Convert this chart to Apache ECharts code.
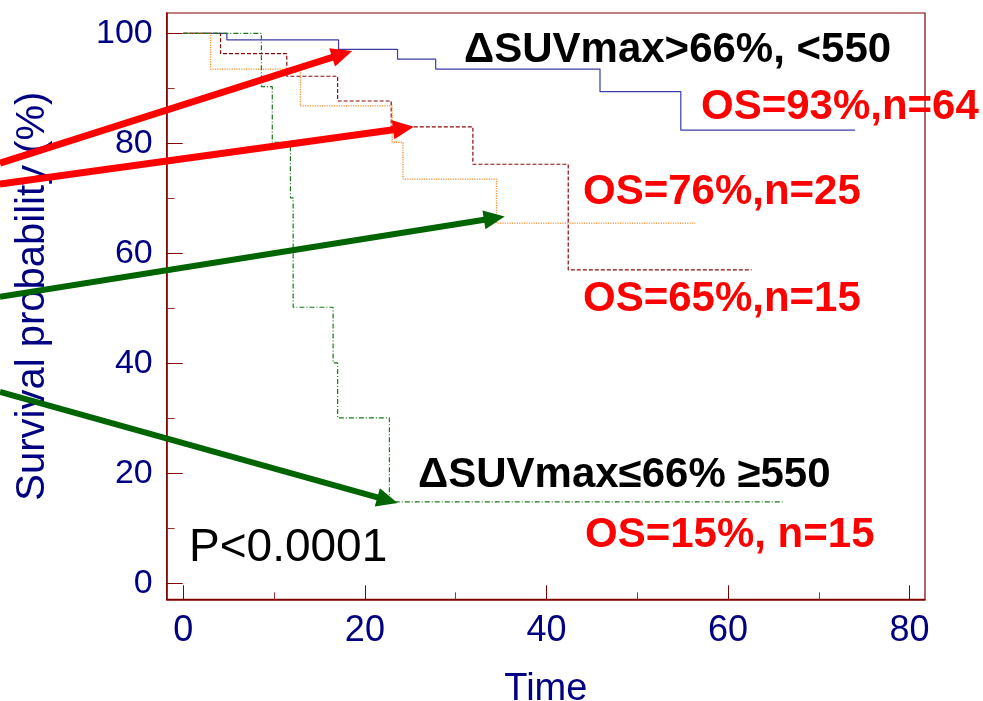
<!DOCTYPE html>
<html>
<head>
<meta charset="utf-8">
<script src="https://cdn.jsdelivr.net/npm/echarts@6/dist/echarts.min.js"></script>
<style>
  html, body { margin: 0; padding: 0; background: #fff; }
  #chart { width: 983px; height: 701px; }
</style>
</head>
<body>
<div id="chart"></div>
<script>
// Kaplan–Meier survival curves: event times and survival (%) after each step
const timeBlue   = [0, 4.8, 17.1, 23.6, 27.8, 45.9, 54.8, 74.0];
const survBlue   = [100, 98.8, 97.1, 95.3, 93.5, 89.4, 82.4, 82.4];
const timeRed    = [0, 4.1, 11.4, 17.0, 22.9, 31.9, 42.4, 62.6];
const survRed    = [100, 96.3, 92.2, 87.7, 83.0, 76.2, 57.0, 57.0];
const timeOrange = [0, 3.0, 12.9, 23.0, 24.2, 34.5, 56.4];
const survOrange = [100, 93.5, 86.8, 80.2, 73.5, 65.5, 65.5];
const timeGreen  = [0, 8.6, 9.8, 11.8, 12.1, 16.5, 17.0, 22.7, 66.0];
const survGreen  = [100, 90.3, 80.2, 70.1, 50.2, 40.1, 30.1, 14.8, 14.8];

// Axis ticks
const xMajorTicks = [0, 20, 40, 60, 80];
const xMinorTicks = [10, 30, 50, 70];
const yMajorTicks = [0, 20, 40, 60, 80, 100];
const yMinorTicks = [10, 30, 50, 70, 90];

const xName = 'Time';
const yName = 'Survival probability (%)';

const FONT = "'Liberation Sans', Arial, sans-serif";
const AXIS_RED = '#800000';
const NAVY = '#000080';

const pairs = (t, s) => t.map((v, i) => [v, s[i]]);

const X_MIN = -1.83, X_MAX = 81.7;
const Y_MIN = -2.9, Y_MAX = 103.7;

const chart = echarts.init(document.getElementById('chart'), null, { renderer: 'canvas' });

function majorX() {
  return {
    type: 'value', min: X_MIN, max: X_MAX, position: 'bottom',
    axisLine: { show: true, onZero: false, lineStyle: { color: AXIS_RED, width: 1.5 } },
    axisTick: { show: true, inside: true, length: 14, customValues: xMajorTicks,
                lineStyle: { color: AXIS_RED, width: 1 } },
    axisLabel: { show: true, customValues: xMajorTicks, margin: 14,
                 fontFamily: FONT, fontSize: 36, color: NAVY },
    splitLine: { show: false },
    name: xName, nameLocation: 'middle', nameGap: 71,
    nameTextStyle: { fontFamily: FONT, fontSize: 38, color: NAVY }
  };
}
function minorX() {
  return {
    type: 'value', min: X_MIN, max: X_MAX, position: 'bottom', offset: 0,
    axisLine: { show: false, onZero: false },
    axisTick: { show: true, inside: true, length: 7, customValues: xMinorTicks,
                lineStyle: { color: '#a03030', width: 1 } },
    axisLabel: { show: false },
    splitLine: { show: false }
  };
}
function majorY() {
  return {
    type: 'value', min: Y_MIN, max: Y_MAX, position: 'left',
    axisLine: { show: true, onZero: false, lineStyle: { color: AXIS_RED, width: 1.5 } },
    axisTick: { show: true, inside: true, length: 16, customValues: yMajorTicks,
                lineStyle: { color: AXIS_RED, width: 1 } },
    axisLabel: { show: true, customValues: yMajorTicks, margin: 14,
                 fontFamily: FONT, fontSize: 34, color: NAVY },
    splitLine: { show: false },
    name: yName, nameLocation: 'middle', nameGap: 114, nameRotate: 90,
    nameTextStyle: { fontFamily: FONT, fontSize: 40, color: NAVY, padding: [0, 0, 0, 20] }
  };
}
function minorY() {
  return {
    type: 'value', min: Y_MIN, max: Y_MAX, position: 'left', offset: 0,
    axisLine: { show: false, onZero: false },
    axisTick: { show: true, inside: true, length: 8, customValues: yMinorTicks,
                lineStyle: { color: '#a03030', width: 1 } },
    axisLabel: { show: false },
    splitLine: { show: false }
  };
}

function kmSeries(name, t, s, color, dash, width) {
  return {
    name: name, type: 'line', step: 'end',
    xAxisIndex: 0, yAxisIndex: 0,
    data: pairs(t, s),
    showSymbol: false, symbol: 'none',
    lineStyle: { color: color, width: width, type: dash },
    clip: false,
    silent: true
  };
}

chart.setOption({
  animation: false,
  backgroundColor: '#ffffff',
  grid: {
    left: 166.7, right: 58, top: 13, bottom: 101.7,
    outerBoundsMode: 'none', containLabel: false,
    show: true, borderColor: AXIS_RED, borderWidth: 1.2, backgroundColor: 'transparent'
  },
  xAxis: [majorX(), minorX()],
  yAxis: [majorY(), minorY()],
  series: [
    kmSeries('ΔSUVmax>66%, <550', timeBlue, survBlue, '#3c3ca8', 'solid', 1.2),
    kmSeries('OS=76%', timeRed, survRed, '#8b0a0a', [4, 2], 1.2),
    kmSeries('OS=65%', timeOrange, survOrange, '#ff8c2a', [1.2, 1.2], 1.3),
    kmSeries('ΔSUVmax≤66% ≥550', timeGreen, survGreen, '#1a7a1a', [5, 2, 1, 2], 1.2)
  ]
});

// Annotation text blocks (pixel layout)
const notes = [
  { text: 'ΔSUVmax>66%, <550', x: 464, y: 50,  color: '#000', size: 42, weight: 'bold' },
  { text: 'OS=93%,n=64',       x: 701, y: 107, color: '#ff0000', size: 42, weight: 'bold' },
  { text: 'OS=76%,n=25',       x: 583, y: 192, color: '#ff0000', size: 42, weight: 'bold' },
  { text: 'OS=65%,n=15',       x: 583, y: 299, color: '#ff0000', size: 42, weight: 'bold' },
  { text: 'ΔSUVmax≤66% ≥550',  x: 418, y: 475, color: '#000', size: 42, weight: 'bold' },
  { text: 'OS=15%, n=15',      x: 585, y: 535, color: '#ff0000', size: 42, weight: 'bold' },
  { text: 'P<0.0001',          x: 189, y: 548, color: '#000', size: 46, weight: 'normal' }
];

// Pointer arrows, anchored in data space (tail lies left of the plot)
const arrows = [
  { from: [-20.2, 76.4], to: [18.6, 96.8], color: '#ff0000', width: 7 },
  { from: [-20.2, 72.6], to: [25.4, 83.0], color: '#ff0000', width: 7 },
  { from: [-20.2, 52.1], to: [35.4, 66.7], color: '#006400', width: 6 },
  { from: [-20.2, 34.8], to: [23.6, 14.6], color: '#006400', width: 6 }
];

const graphics = [];
notes.forEach(n => {
  graphics.push({
    type: 'text', x: n.x, y: n.y, z: 50,
    style: {
      text: n.text, fill: n.color,
      font: n.weight + ' ' + n.size + 'px ' + FONT,
      textAlign: 'left', textVerticalAlign: 'middle'
    }
  });
});

const HEAD_LEN = 21, HEAD_HALF = 9.5;
arrows.forEach(a => {
  const p0 = chart.convertToPixel({ gridIndex: 0 }, a.from);
  const p1 = chart.convertToPixel({ gridIndex: 0 }, a.to);
  const dx = p1[0] - p0[0], dy = p1[1] - p0[1];
  const len = Math.sqrt(dx * dx + dy * dy);
  const ux = dx / len, uy = dy / len;
  const bx = p1[0] - ux * HEAD_LEN, by = p1[1] - uy * HEAD_LEN;
  graphics.push({
    type: 'line', z: 60,
    shape: { x1: p0[0], y1: p0[1], x2: bx + ux * 2, y2: by + uy * 2 },
    style: { stroke: a.color, lineWidth: a.width }
  });
  graphics.push({
    type: 'polygon', z: 61,
    shape: { points: [
      [p1[0], p1[1]],
      [bx - uy * HEAD_HALF, by + ux * HEAD_HALF],
      [bx + uy * HEAD_HALF, by - ux * HEAD_HALF]
    ] },
    style: { fill: a.color }
  });
});

chart.setOption({ graphic: graphics });
</script>
</body>
</html>
